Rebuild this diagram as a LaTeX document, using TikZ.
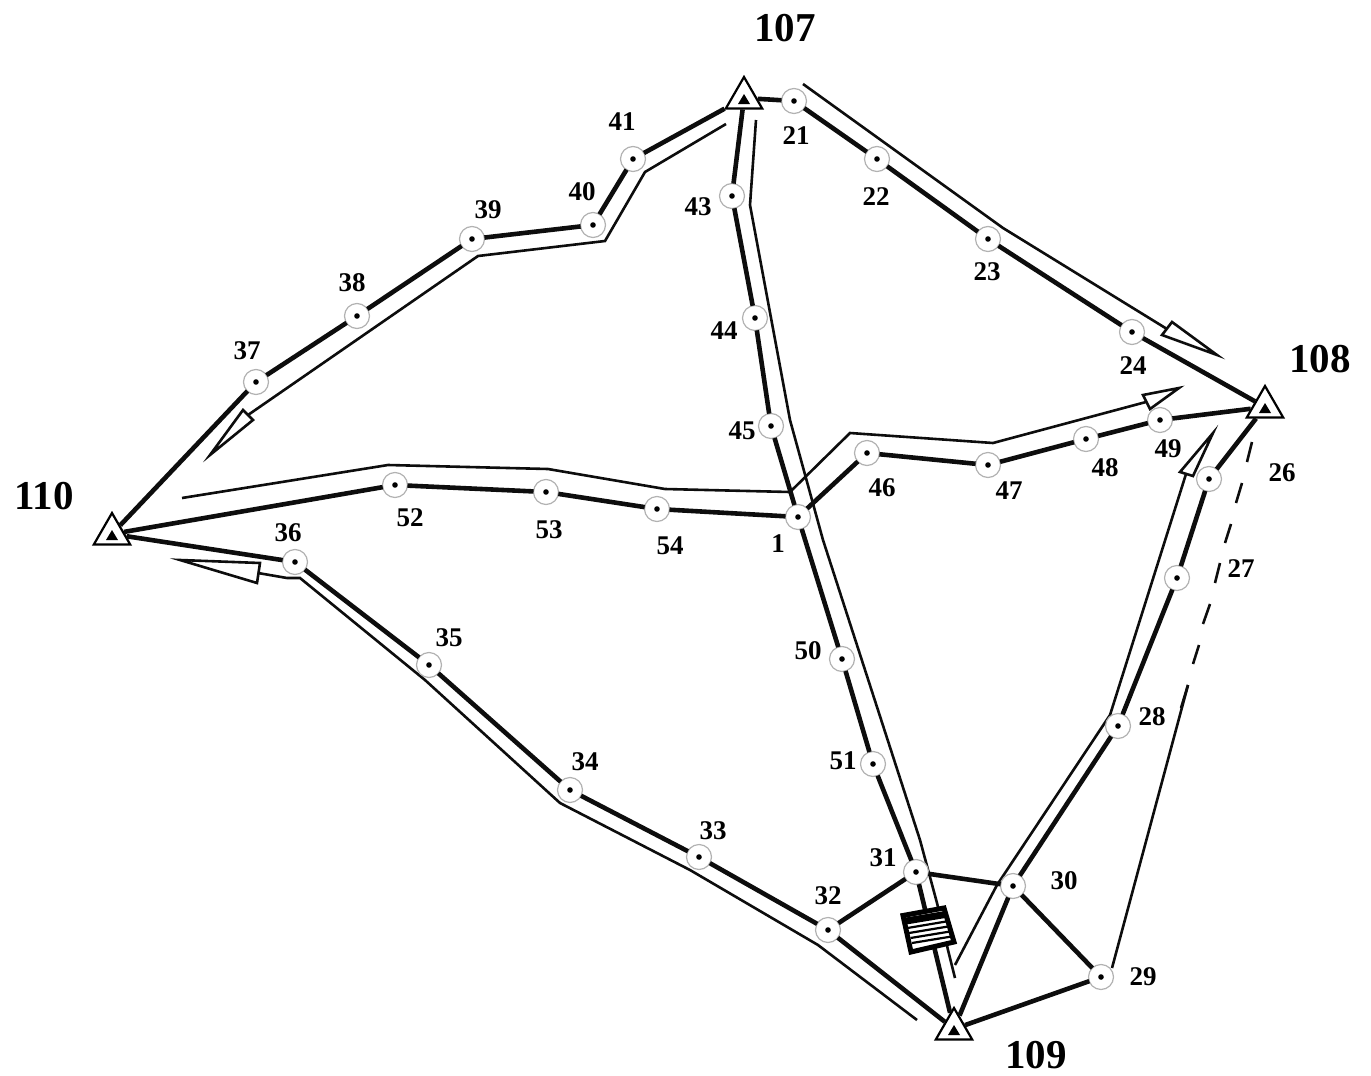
\documentclass[tikz,border=0pt]{standalone}
\usepackage{fontspec}
\setmainfont{Liberation Serif}
\usetikzlibrary{shapes.geometric}
\tikzset{
  x=1pt,y=-1pt,
  stn/.style={circle,draw=black!30,line width=1.2pt,fill=white,minimum size=25pt,inner sep=0pt,outer sep=0pt},
  tri/.style={regular polygon,regular polygon sides=3,draw=black,line width=2.2pt,fill=white,minimum size=42pt,inner sep=0pt,outer sep=1pt},
  thickline/.style={line width=4.6pt,black!95},
  thinline/.style={line width=2.6pt,black!95,line join=miter},
  head/.style={line width=2.6pt,draw=black!95,fill=white,line join=miter},
  lab/.style={font=\bfseries\fontsize{27}{27}\selectfont,inner sep=0pt},
  biglab/.style={font=\bfseries\fontsize{41}{41}\selectfont,inner sep=0pt},
}
\newcommand\stn[3]{\node[stn] (s#1) at (#2,#3) {}; \fill (s#1) circle (2.8pt);\node[lab] (l#1) at (\lx,\ly) {#1};}
\newcommand\trn[3]{\node[tri] (#1) at (#2,#3) {}; \fill ([shift={(-6,6)}]#1.center) -- ([shift={(6,6)}]#1.center) -- ([shift={(0,-4)}]#1.center) -- cycle;}
\newcommand\st[5]{\def\lx{#4}\def\ly{#5}\stn{#1}{#2}{#3}}
\begin{document}
\begin{tikzpicture}
\useasboundingbox (0,0) rectangle (1371,1076);
% free ends of the thin offset lines
\coordinate (a0) at (803,84);
\coordinate (b0) at (726,124);
\coordinate (c0) at (756,120);
\coordinate (c1) at (955,978);
\coordinate (d0) at (182,498);
\coordinate (e0) at (917,1020);
\coordinate (f0) at (955,965);
\coordinate (g0) at (1112,968);
\coordinate (g1) at (1188,685);
% thin lines
\draw[thinline] (a0) -- (1003,228) -- (1167,329);
\draw[head] (1172,322) -- (1217,355) -- (1162,335) -- cycle;
\draw[thinline] (b0) -- (645,172) -- (605,241) -- (478,256) -- (248,415);
\draw[head] (243,410) -- (253,420) -- (210,455) -- cycle;
\draw[thinline] (c0) -- (750,205) -- (790,420) -- (823,540) -- (920,840) -- (937,903) -- (948,950) -- (c1);
\draw[thinline] (d0) -- (388,465) -- (548,469) -- (665,489) -- (790,492) -- (850,433) -- (993,443) -- (1146,402);
\draw[head] (1143,395) -- (1179,388) -- (1150,409) -- cycle;
\draw[thinline] (e0) -- (818,945) -- (690,870) -- (560,803) -- (425,680) -- (300,578) -- (287,578) -- (258,573);
\draw[head] (260,563) -- (180,560) -- (257,583) -- cycle;
\draw[thinline] (f0) -- (997,885) -- (1110,715) -- (1186,474);
\draw[head] (1180,472) -- (1193,476) -- (1213,433) -- cycle;
\draw[thinline] (g0) -- (g1);
\draw[thinline] (1188,685) -- (1181,708);
\draw[thinline] (1199,645) -- (1193,664);
\draw[thinline] (1210,604) -- (1203,624);
\draw[thinline] (1220,563) -- (1215,583);
\draw[thinline] (1231,524) -- (1225,543);
\draw[thinline] (1242,483) -- (1236,503);
\draw[thinline] (1252,442) -- (1247,462);
% triangles
\trn{t107}{744}{98}
\trn{t108}{1265}{407}
\trn{t109}{954}{1029}
\trn{t110}{112}{534}
\node[biglab] (n107) at (785,28) {107};
\node[biglab] (n108) at (1320,359) {108};
\node[biglab] (n109) at (1036,1055) {109};
\node[biglab] (n110) at (44,496) {110};
% stations: name, x, y, label x, label y
\st{21}{794}{101}{796}{136}
\st{22}{877}{159}{876}{197}
\st{23}{988}{239}{987}{272}
\st{24}{1132}{332}{1133}{366}
\st{26}{1209}{479}{1282}{473}
\st{27}{1177}{578}{1241}{569}
\st{28}{1118}{726}{1152}{717}
\st{29}{1101}{977}{1143}{977}
\st{30}{1013}{886}{1064}{881}
\st{31}{916}{872}{883}{858}
\st{32}{828}{930}{828}{896}
\st{33}{699}{857}{713}{831}
\st{34}{570}{790}{585}{762}
\st{35}{429}{665}{449}{638}
\st{36}{295}{562}{288}{533}
\st{37}{256}{382}{247}{351}
\st{38}{357}{316}{352}{283}
\st{39}{472}{239}{488}{210}
\st{40}{593}{225}{582}{192}
\st{41}{633}{159}{622}{122}
\st{43}{732}{196}{698}{207}
\st{44}{755}{318}{724}{331}
\st{45}{771}{426}{742}{431}
\st{46}{867}{453}{882}{488}
\st{47}{988}{465}{1009}{491}
\st{48}{1086}{439}{1105}{468}
\st{49}{1160}{420}{1168}{449}
\st{50}{842}{659}{808}{651}
\st{51}{873}{764}{843}{761}
\st{52}{395}{485}{410}{518}
\st{53}{546}{492}{549}{530}
\st{54}{657}{509}{670}{546}
\st{1}{798}{517}{778}{544}
% thick connectors
\draw[thickline] (t107) -- (s21) -- (s22) -- (s23) -- (s24) -- (t108);
\draw[thickline] (t107) -- (s41) -- (s40) -- (s39) -- (s38) -- (s37) -- (t110);
\draw[thickline] (t107) -- (s43) -- (s44) -- (s45) -- (s1) -- (s50) -- (s51) -- (s31) -- (t109);
\draw[thickline] (t110) -- (s52) -- (s53) -- (s54) -- (s1) -- (s46) -- (s47) -- (s48) -- (s49) -- (t108);
\draw[thickline] (t110) -- (s36) -- (s35) -- (s34) -- (s33) -- (s32) -- (t109);
\draw[thickline] (t108) -- (s26) -- (s27) -- (s28) -- (s30) -- (t109);
\draw[thickline] (s31) -- (s32);
\draw[thickline] (s31) -- (s30);
\draw[thickline] (s30) -- (s29);
\draw[thickline] (s29) -- (t109);
% box on the line 31-109
\draw[line width=5pt,fill=white,line join=miter] (903,915.5) -- (944,908) -- (954,942) -- (911,952) -- cycle;
\draw[line width=7pt] (906,921) -- (945,914.5);
\draw[line width=2.2pt] (907.5,928) -- (946,921.5);
\draw[line width=2.2pt] (909,933) -- (948,926.5);
\draw[line width=2.2pt] (910.5,938) -- (950,931.5);
\draw[line width=2.2pt] (912,943) -- (951.5,936.5);
\end{tikzpicture}
\end{document}
